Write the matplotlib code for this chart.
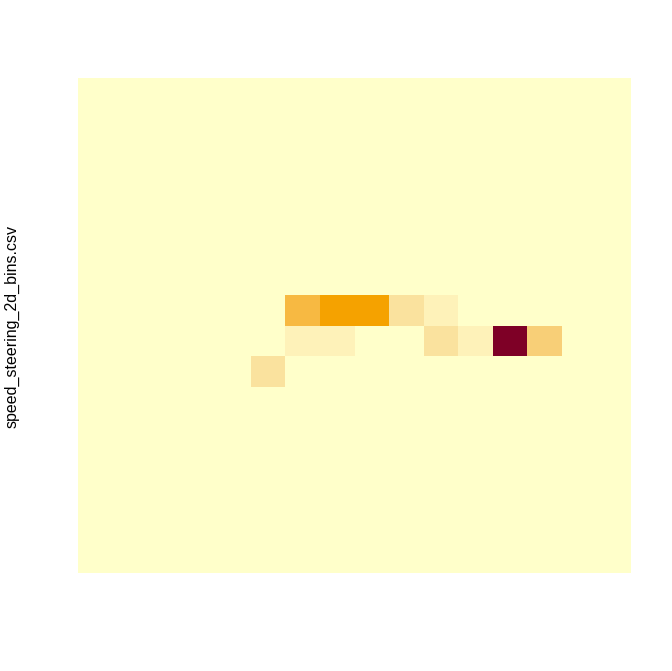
import numpy as np
import matplotlib
matplotlib.use("Agg")
import matplotlib.pyplot as plt
from matplotlib.colors import LinearSegmentedColormap

# Grid: 16 x 16 bins (row 0 = top)
n_rows = 16
n_cols = 16
# Non-zero cells: (row_from_top, column, count)
cell_rows = [7, 7, 7, 7, 7, 8, 8, 8, 8, 8, 8, 9]
cell_cols = [6, 7, 8, 9, 10, 6, 7, 10, 11, 12, 13, 5]
cell_vals = [4, 5, 5, 2, 1, 1, 1, 2, 1, 10, 3, 2]

Z = np.zeros((n_rows, n_cols))
for r, c, v in zip(cell_rows, cell_cols, cell_vals):
    Z[r, c] = v

cmap = LinearSegmentedColormap.from_list(
    "ylorrd_hcl",
    [(0.0, "#FFFFCA"), (0.1, "#FEF2B9"), (0.2, "#FAE29E"), (0.3, "#F8CF76"),
     (0.4, "#F7B942"), (0.5, "#F5A300"), (0.65, "#EB6A0A"), (0.8, "#C9201F"),
     (1.0, "#7E0026")])

fig = plt.figure(figsize=(6.72, 6.71), dpi=100)
ax = fig.add_axes([78 / 672, (671 - 573) / 671, 553 / 672, 495 / 671])
ax.pcolormesh(np.arange(n_cols + 1), np.arange(n_rows + 1), Z,
              cmap=cmap, vmin=0, vmax=max(cell_vals), shading="flat")
ax.set_xlim(0, n_cols)
ax.set_ylim(n_rows, 0)
ax.set_xticks([])
ax.set_yticks([])
for s in ax.spines.values():
    s.set_visible(False)

fig.text(12 / 672, 1 - 326 / 671, "speed_steering_2d_bins.csv", rotation=90,
         ha="center", va="center", fontsize=11.5, family="Liberation Sans")

fig.savefig("out.png", dpi=100)
